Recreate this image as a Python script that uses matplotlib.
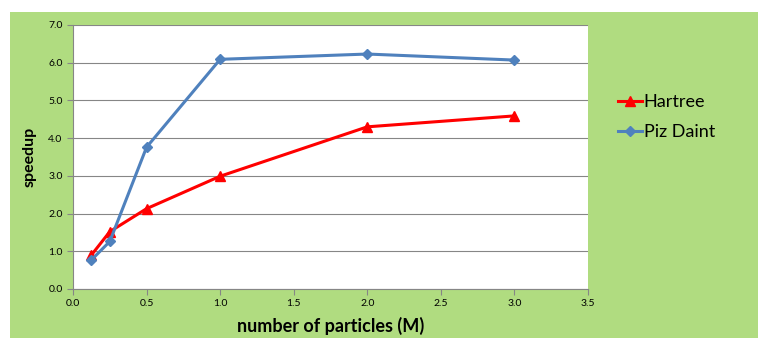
import matplotlib.pyplot as plt
from matplotlib.patches import Rectangle

particles = [0.125, 0.25, 0.5, 1.0, 2.0, 3.0]
hartree = [0.90, 1.52, 2.13, 2.99, 4.30, 4.59]
piz_daint = [0.77, 1.26, 3.76, 6.09, 6.23, 6.07]

plt.rcParams['font.family'] = ['Lato', 'DejaVu Sans']

fig = plt.figure(figsize=(7.58, 3.38), dpi=100)
fig.patch.set_facecolor('white')
# green chart area below a thin white strip
fig.patches.append(Rectangle((10 / 758, 0), 1 - 10 / 758, 1 - 12 / 338,
                             transform=fig.transFigure, facecolor='#B0DC80',
                             edgecolor='none', zorder=-10))

ax = fig.add_axes([73 / 758, 1 - 289 / 338, (588 - 73) / 758, (289 - 25) / 338])
ax.set_facecolor('white')

ax.plot(particles, hartree, color='#FF0000', linewidth=2.2, marker='^',
        markersize=7, label='Hartree', zorder=3)
ax.plot(particles, piz_daint, color='#4F81BD', linewidth=2.2, marker='D',
        markersize=5, label='Piz Daint', zorder=3)

ax.set_xlim(0, 3.5)
ax.set_ylim(0, 7)
ax.set_xticks([0, 0.5, 1.0, 1.5, 2.0, 2.5, 3.0, 3.5])
ax.set_yticks(range(8))
ax.xaxis.set_major_formatter(lambda v, p: f'{v:.1f}')
ax.yaxis.set_major_formatter(lambda v, p: f'{v:.1f}')
ax.tick_params(labelsize=7.5, color='#868686', length=4)
ax.grid(axis='y', color='#868686', linewidth=0.8)
ax.set_axisbelow(True)
for side in ['left', 'bottom']:
    ax.spines[side].set_color('#868686')
for side in ['top', 'right']:
    ax.spines[side].set_visible(False)

ax.set_xlabel('number of particles (M)', fontsize=13, fontweight='bold', labelpad=6)
ax.set_ylabel('speedup', fontsize=11.5, fontweight='bold', labelpad=8)

fig.legend(loc='upper left', bbox_to_anchor=(602 / 758, 1 - 78 / 338),
           frameon=False, fontsize=13, handlelength=1.3, handletextpad=0.1,
           labelspacing=0.78)

fig.savefig('out.png', dpi=100, facecolor=fig.get_facecolor())
